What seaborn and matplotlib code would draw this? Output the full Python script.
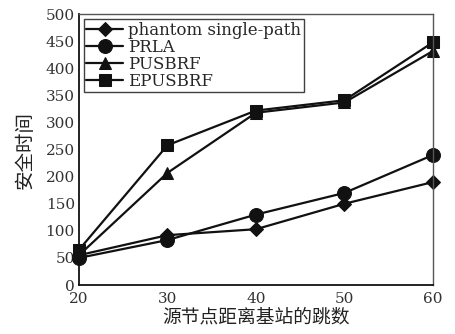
import matplotlib
matplotlib.use("Agg")
import matplotlib.pyplot as plt
import seaborn as sns
import pandas as pd

hops = [20, 30, 40, 50, 60]
phantom = [55, 92, 103, 150, 190]
prla = [50, 83, 130, 170, 240]
pusbrf = [55, 207, 318, 337, 432]
epusbrf = [65, 258, 322, 341, 448]
series_names = ["phantom single-path", "PRLA", "PUSBRF", "EPUSBRF"]
markers = ["D", "o", "^", "s"]
msizes = [7, 10, 8, 8]

sns.set_theme(style="white")
plt.rcParams['font.family'] = ['DejaVu Serif', 'Noto Sans CJK SC']

df = pd.DataFrame({"hops": hops * 4,
                   "value": phantom + prla + pusbrf + epusbrf,
                   "series": sum([[n] * len(hops) for n in series_names], [])})

fig = plt.figure(figsize=(4.55, 3.34), dpi=100)
ax = fig.add_axes([0.1736, 0.1467, 0.778, 0.811])

for name, m, ms in zip(series_names, markers, msizes):
    sub = df[df.series == name]
    sns.lineplot(data=sub, x="hops", y="value", ax=ax, color="#111111",
                 marker=m, markersize=ms, linewidth=1.6, label=name,
                 markeredgecolor="#111111", clip_on=False)

ax.set_xlim(20, 60)
ax.set_ylim(0, 500)
ax.set_xticks(hops)
ax.set_yticks(range(0, 501, 50))
ax.tick_params(labelsize=11, colors="#333333", length=0)
ax.tick_params(axis="x", pad=5)
ax.tick_params(axis="y", pad=3)
ax.set_xlabel("源节点距离基站的跳数", fontsize=13.5, labelpad=2, color="#222222")
ax.set_ylabel("安全时间", fontsize=14, labelpad=8, color="#222222")
for s in ["left", "bottom"]:
    ax.spines[s].set_color("#111111")
    ax.spines[s].set_linewidth(1.3)
for s in ["top", "right"]:
    ax.spines[s].set_color("#555555")
    ax.spines[s].set_linewidth(1.0)

leg = ax.legend(loc="upper left", fontsize=12, frameon=True, fancybox=False,
                edgecolor="#111111", borderpad=0.15, labelspacing=0.0,
                handlelength=2.2, handletextpad=0.3, borderaxespad=0.3)
leg.get_frame().set_linewidth(1.0)

fig.savefig("out.png", dpi=100)
